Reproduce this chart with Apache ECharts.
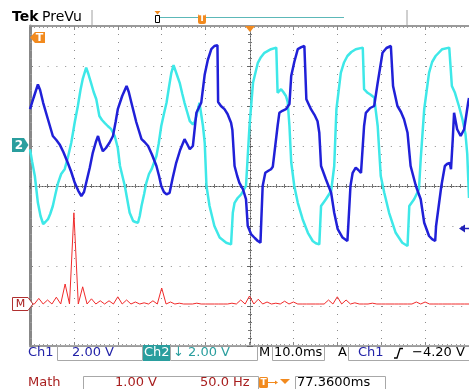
<!DOCTYPE html>
<html>
<head>
<meta charset="utf-8">
<script src="https://cdn.jsdelivr.net/npm/echarts/dist/echarts.min.js"></script>
<style>
html,body{margin:0;padding:0;background:#fff;}
#chart{width:469px;height:389px;}
</style>
</head>
<body>
<div id="chart"></div>
<script>
// screen is 10 div x 8 div; time 10 ms/div, traces stored in divisions from centre
// Ch1 trace [ms, div]
const ch1 = [
  [0,1.92],[0.8,2.2],[1.8,2.54],[2.3,2.4],[3.0,2.08],[4.0,1.7],[5.2,1.25],[6.0,1.15],[6.75,1.04],
  [7.6,0.85],[8.6,0.58],[9.4,0.35],[10.2,0.08],[11.0,-0.12],[11.7,-0.25],[12.3,-0.15],[12.8,0.08],
  [13.6,0.45],[14.3,0.83],[15.0,1.1],[15.5,1.25],[16.0,1.05],[16.6,0.87],[17.3,0.95],[18.1,1.08],
  [18.9,1.25],[19.5,1.6],[20.0,1.92],[21.0,2.25],[22.0,2.5],[22.5,2.35],[23.1,2.08],[24.2,1.6],
  [25.4,1.17],[26.1,1.1],[26.9,1.0],[27.8,0.78],[28.8,0.5],[29.4,0.25],[29.9,0],[30.5,-0.15],
  [31.1,-0.21],[31.8,-0.17],[32.5,0.2],[33.3,0.58],[34.2,0.9],[35.2,1.17],[35.8,1.05],[36.4,0.92],
  [37.1,1.0],[37.9,1.83],[39.0,2.08],[39.8,2.79],[40.5,3.15],[41.3,3.42],[42.0,3.5],[42.7,3.52],
  [42.85,2.1],[43.5,2.0],[44.3,1.92],[45.0,1.8],[45.8,1.58],[46.1,1.4],[46.6,0.5],[47.2,0.25],
  [47.7,0.08],[48.5,-0.08],[49.2,-0.33],[49.6,-1.0],[50.4,-1.21],[51.2,-1.3],[51.9,-1.375],
  [52.5,-1.42],[52.7,-0.83],[53.0,0],[53.6,0.33],[54.3,0.38],[54.9,0.42],[55.3,0.48],[55.7,0.5],
  [56.4,1.5],[56.8,1.83],[57.5,1.88],[58.3,1.92],[59.1,2.05],[59.5,2.75],[60.2,3.1],[61.0,3.42],
  [61.8,3.47],[62.5,3.5],[62.9,3.48],[62.95,2.17],[64.0,1.92],[64.8,1.78],[65.5,1.62],[65.9,1.33],
  [66.3,0.5],[67.4,0.17],[68.6,-0.17],[69.3,-0.67],[70.1,-1.08],[71.2,-1.29],[72.3,-1.375],
  [72.5,-1.0],[73.0,0],[73.5,0.33],[74.2,0.46],[74.8,0.4],[75.4,0.33],[76.1,1.5],[76.5,1.83],
  [77.5,1.95],[78.4,2.0],[79.2,2.58],[80.3,3.33],[81.2,3.45],[82.2,3.5],[82.5,3.45],[82.7,2.5],
  [83.7,2.0],[84.5,1.85],[85.2,1.67],[86.0,1.33],[86.7,0.5],[87.9,0],[89.0,-0.33],[89.8,-0.92],
  [90.9,-1.25],[91.6,-1.33],[92.3,-1.375],[92.5,-1.0],[93.7,0],[94.5,0.5],[95.0,0.55],[95.6,0.58],
  [95.9,0.42],[96.3,1.17],[96.6,1.83],[97.3,1.42],[98.1,1.25],[98.9,1.42],[99.8,2.08],[100,2.2]
];

// Ch2 trace [ms, div]
const ch2 = [
  [0,0.92],[0.5,0.6],[1.1,0.25],[1.8,-0.42],[2.4,-0.75],[3.0,-0.95],[3.5,-0.9],[4.1,-0.83],
  [4.6,-0.7],[5.2,-0.5],[5.8,-0.2],[6.4,0.08],[7.1,0.3],[7.9,0.42],[8.6,0.7],[9.4,1.08],[10.2,1.6],
  [10.9,2.0],[11.5,2.4],[12.0,2.67],[12.8,2.96],[13.3,2.8],[13.9,2.58],[14.5,2.35],[15.1,2.17],
  [15.8,1.75],[16.4,1.65],[17.0,1.58],[17.7,1.5],[18.5,1.42],[19.3,1.25],[20.0,0.95],[20.5,0.5],
  [21.6,0],[22.7,-0.67],[23.5,-0.875],[24.0,-0.9],[24.6,-0.92],[25.0,-0.75],[25.4,-0.5],[26.0,-0.2],
  [26.5,0.08],[27.1,0.3],[27.7,0.42],[28.8,0.75],[29.3,1.05],[29.9,1.5],[30.5,1.8],[31.1,2.08],
  [31.7,2.5],[32.2,2.83],[32.7,3.02],[33.4,2.8],[34.1,2.58],[34.7,2.3],[35.2,2.08],[35.8,1.85],
  [36.4,1.62],[37.1,1.54],[37.5,1.6],[37.9,1.75],[38.6,2.08],[39.0,2.12],[39.4,1.5],[39.8,1.08],
  [40.2,0],[40.9,-0.5],[42.0,-1.0],[43.2,-1.29],[44.7,-1.42],[45.8,-1.46],[46.2,-0.67],[46.6,-0.42],
  [47.3,-0.3],[48.1,-0.21],[49.2,0],[50.0,1.5],[50.8,2.58],[51.9,3.08],[52.6,3.22],[53.4,3.33],
  [54.9,3.42],[56.1,3.46],[56.4,2.33],[57.2,2.42],[57.7,2.35],[58.3,2.25],[58.7,2.1],[59.1,1.5],
  [59.5,0.6],[60.2,0],[61.0,-0.42],[62.1,-0.83],[63.3,-1.17],[64.4,-1.375],[65.1,-1.43],[65.9,-1.46],
  [66.3,-0.5],[67.4,-0.33],[68.6,-0.125],[69.3,0.5],[69.8,1.92],[70.8,2.83],[71.5,3.08],[72.3,3.25],
  [73.2,3.35],[74.2,3.42],[75.8,3.46],[76.1,2.42],[76.9,2.33],[77.6,2.28],[78.4,2.21],[79.2,1.5],
  [79.9,0.25],[80.7,-0.17],[81.8,-0.67],[83.3,-1.17],[84.8,-1.42],[86.0,-1.5],[86.4,-0.5],[87.5,-0.33],
  [88.6,-0.08],[89.0,0.67],[89.8,1.92],[90.9,2.83],[91.6,3.1],[92.4,3.25],[93.9,3.42],[95.5,3.46],
  [96.1,2.5],[96.8,2.33],[97.7,2.0],[98.5,1.67],[99.2,1.3],[99.6,0.8],[100,-0.3]
];

// Math FFT, 1.00 V/div, 50.0 Hz/div, one value every 5 Hz from 0 Hz
const fftStepHz = 5;
const fftAmp = [
  0, 0, 0.14, 0, 0.10, 0, 0.17, 0, 0.5, 0,
  2.28, 0, 0.43, 0, 0.13, 0, 0.08, 0, 0.08, 0,
  0.18, 0, 0.1, 0, 0.05, 0, 0.03, 0, 0.08, 0,
  0.4, 0, 0.05, 0, 0.02, 0, 0, 0, 0.02, 0,
  0, 0, 0, 0, 0, 0, 0.02, 0, 0.1, 0,
  0.2, 0, 0.12, 0, 0.05, 0, 0.02, 0, 0.07, 0,
  0.05, 0, 0, 0, 0, 0, 0, 0, 0.1, 0,
  0.18, 0, 0.1, 0, 0.03, 0, 0, 0, 0.02, 0,
  0, 0, 0, 0, 0, 0, 0, 0, 0.05, 0,
  0.05, 0, 0, 0, 0, 0, 0, 0, 0, 0,
  0
];

const FONT = 'DejaVu Sans';
const dotGray = '#8c8c8c';
const BLUE_TXT = '#2323a8';
const TEAL = '#2a9e9e';
const RED_TXT = '#a81e1e';
const ORANGE = '#f28a1e';

const chart = echarts.init(document.getElementById('chart'));

function txt(x, y, s, color, size, weight, align) {
  return {
    type: 'text', x: x, y: y, z: 20,
    style: {
      text: s, fill: color, align: align || 'left', verticalAlign: 'middle',
      fontFamily: FONT, fontSize: size || 13, fontWeight: weight || 'normal'
    }
  };
}
function box(x, y, w, h, stroke) {
  return { type: 'rect', z: 19, shape: { x: x, y: y, width: w, height: h },
    style: { fill: 'none', stroke: stroke || '#a8a8a8', lineWidth: 1 } };
}

// ruler + graticule axes
function ruler(pos) {
  return {
    type: 'value', min: 0, max: 100, interval: 10, position: pos,
    axisLine: { show: true, onZero: false, lineStyle: { color: '#9a9a9a', width: 2 } },
    axisTick: { show: true, inside: true, length: 4, lineStyle: { color: '#888' } },
    minorTick: { show: true, splitNumber: 10, length: 2, lineStyle: { color: '#999' } },
    axisLabel: { show: false },
    splitLine: { show: pos === 'bottom', lineStyle: { color: dotGray, width: 1, type: [1, 7] } }
  };
}
function centerX(inside) {
  return {
    type: 'value', min: 0, max: 100, interval: 10, position: 'bottom', offset: -160,
    axisLine: { show: true, onZero: false, lineStyle: { color: '#555', width: 1, type: [1, 2] } },
    axisTick: { show: true, inside: inside, length: 3, lineStyle: { color: '#666' } },
    minorTick: { show: true, splitNumber: 5, length: 2, lineStyle: { color: '#777' } },
    axisLabel: { show: false }, splitLine: { show: false }
  };
}
function centerY(inside) {
  return {
    type: 'value', min: -4, max: 4, interval: 1, position: 'left', offset: -220,
    axisLine: { show: true, onZero: false, lineStyle: { color: '#555', width: 1, type: [1, 2] } },
    axisTick: { show: true, inside: inside, length: 3, lineStyle: { color: '#666' } },
    minorTick: { show: true, splitNumber: 5, length: 2, lineStyle: { color: '#777' } },
    axisLabel: { show: false }, splitLine: { show: false }
  };
}

const graphics = [
  // header
  txt(12, 17, 'Tek', '#000', 14, 'bold'),
  txt(42, 17, 'PreVu', '#000', 14),
  { type: 'line', z: 19, shape: { x1: 92, y1: 10, x2: 92, y2: 25 }, style: { stroke: '#a0a0a0', lineWidth: 1 } },
  { type: 'line', z: 19, shape: { x1: 407, y1: 10, x2: 407, y2: 25 }, style: { stroke: '#a0a0a0', lineWidth: 1 } },
  { type: 'line', z: 19, shape: { x1: 158, y1: 17.5, x2: 344, y2: 17.5 }, style: { stroke: '#5cb8b8', lineWidth: 1 } },
  { type: 'rect', z: 20, shape: { x: 155.5, y: 15.5, width: 4, height: 7 }, style: { fill: '#fff', stroke: '#000', lineWidth: 1 } },
  { type: 'polygon', z: 20, shape: { points: [[154.5, 11], [160.5, 11], [157.5, 14.5]] }, style: { fill: ORANGE } },
  { type: 'rect', z: 20, shape: { x: 198, y: 14, width: 8, height: 10, r: 2 }, style: { fill: ORANGE } },
  txt(202, 19, 'T', '#fff', 9, 'bold', 'center'),
  // trigger position marker
  { type: 'polygon', z: 20, shape: { points: [[245, 26], [255, 26], [250, 32]] }, style: { fill: ORANGE } },
  // T marker upper left
  { type: 'polygon', z: 20, shape: { points: [[30, 37.5], [35, 32], [45, 32], [45, 43], [35, 43]] }, style: { fill: ORANGE } },
  txt(39.5, 38, 'T', '#fff', 11, 'bold', 'center'),
  // ch2 ground marker
  { type: 'polygon', z: 20, shape: { points: [[12, 138], [24, 138], [28.5, 145], [24, 152], [12, 152]] }, style: { fill: TEAL } },
  txt(19, 145.5, '2', '#fff', 12, 'bold', 'center'),
  // math marker
  { type: 'polygon', z: 20, shape: { points: [[12.5, 297.5], [28, 297.5], [33, 304], [28, 310.5], [12.5, 310.5]] }, style: { fill: '#fff', stroke: '#b03030', lineWidth: 1 } },
  txt(20.5, 304.5, 'M', RED_TXT, 11, 'normal', 'center'),
  // trigger level arrow
  { type: 'polygon', z: 20, shape: { points: [[459, 228.5], [465, 224.5], [465, 232.5]] }, style: { fill: '#2020b8' } },
  { type: 'line', z: 20, shape: { x1: 464, y1: 228.5, x2: 469, y2: 228.5 }, style: { stroke: '#2020b8', lineWidth: 1.5 } },

  // readout row 1
  txt(28, 353, 'Ch1', BLUE_TXT),
  box(57.5, 345.5, 85, 15),
  txt(72, 353, '2.00 V', BLUE_TXT),
  { type: 'rect', z: 19, shape: { x: 143, y: 345, width: 27, height: 16 }, style: { fill: TEAL } },
  txt(144, 353, 'Ch2', '#fff'),
  box(170.5, 345.5, 87, 15),
  txt(173, 353, '\u2193 2.00 V', TEAL),
  txt(259, 353, 'M', '#000'),
  box(272.5, 345.5, 52, 15),
  txt(274, 353, '10.0ms', '#000'),
  txt(338, 353, 'A', '#000'),
  box(348.5, 345.5, 125, 15),
  txt(358, 353, 'Ch1', BLUE_TXT),
  { type: 'polyline', z: 20, shape: { points: [[394, 358], [397, 358], [400, 348.5], [403, 348.5]] }, style: { stroke: '#000', lineWidth: 1.3, fill: null } },
  txt(412, 353, '\u22124.20 V', '#000'),

  // readout row 2
  txt(28, 383, 'Math', RED_TXT),
  box(83.5, 376.5, 175, 16),
  txt(115, 383, '1.00 V', RED_TXT),
  txt(200, 383, '50.0 Hz', RED_TXT),
  { type: 'rect', z: 20, shape: { x: 259, y: 377, width: 9, height: 11, r: 1.5 }, style: { fill: ORANGE } },
  txt(263.5, 382.5, 'T', '#fff', 9, 'bold', 'center'),
  { type: 'line', z: 20, shape: { x1: 268, y1: 382.5, x2: 277, y2: 382.5 }, style: { stroke: ORANGE, lineWidth: 1 } },
  { type: 'polygon', z: 20, shape: { points: [[275, 380.5], [278, 382.5], [275, 384.5]] }, style: { fill: ORANGE } },
  { type: 'polygon', z: 20, shape: { points: [[280, 379], [290, 379], [285, 384]] }, style: { fill: ORANGE } },
  box(295.5, 376.5, 90, 16),
  txt(297, 383, '77.3600ms', '#000')
];

const option = {
  animation: false,
  backgroundColor: '#fff',
  grid: { left: 30, top: 26, width: 440, height: 320 },
  xAxis: [
    ruler('bottom'),
    ruler('top'),
    { type: 'value', min: 0, max: 500, show: false },
    centerX(false),
    centerX(true)
  ],
  yAxis: [
    {
      type: 'value', min: -4, max: 4, interval: 1, position: 'left',
      axisLine: { show: true, onZero: false, lineStyle: { color: '#888', width: 3 } },
      axisTick: { show: true, inside: true, length: 3, lineStyle: { color: '#888' } },
      minorTick: { show: true, splitNumber: 5, length: 2, lineStyle: { color: '#999' } },
      axisLabel: { show: false },
      splitLine: { show: true, lineStyle: { color: dotGray, width: 1, type: [1, 7.8] } }
    },
    { type: 'value', min: -1.05, max: 6.95, show: false },
    centerY(false),
    centerY(true)
  ],
  graphic: graphics,
  series: [
    {
      name: 'Ch2', type: 'line', xAxisIndex: 0, yAxisIndex: 0, data: ch2,
      symbol: 'none', z: 3, color: '#3ee8e8',
      lineStyle: { color: '#3ee8e8', width: 2.5 }
    },
    {
      name: 'Ch1', type: 'line', xAxisIndex: 0, yAxisIndex: 0, data: ch1,
      symbol: 'none', z: 4, color: '#2020d8',
      lineStyle: { color: '#2020d8', width: 2.5 }
    },
    {
      name: 'Math', type: 'line', xAxisIndex: 2, yAxisIndex: 1,
      data: fftAmp.map((a, i) => [i * fftStepHz, a]),
      symbol: 'none', z: 5, color: '#f02a2a',
      lineStyle: { color: '#f02a2a', width: 1 }
    }
  ]
};

chart.setOption(option);
</script>
</body>
</html>
